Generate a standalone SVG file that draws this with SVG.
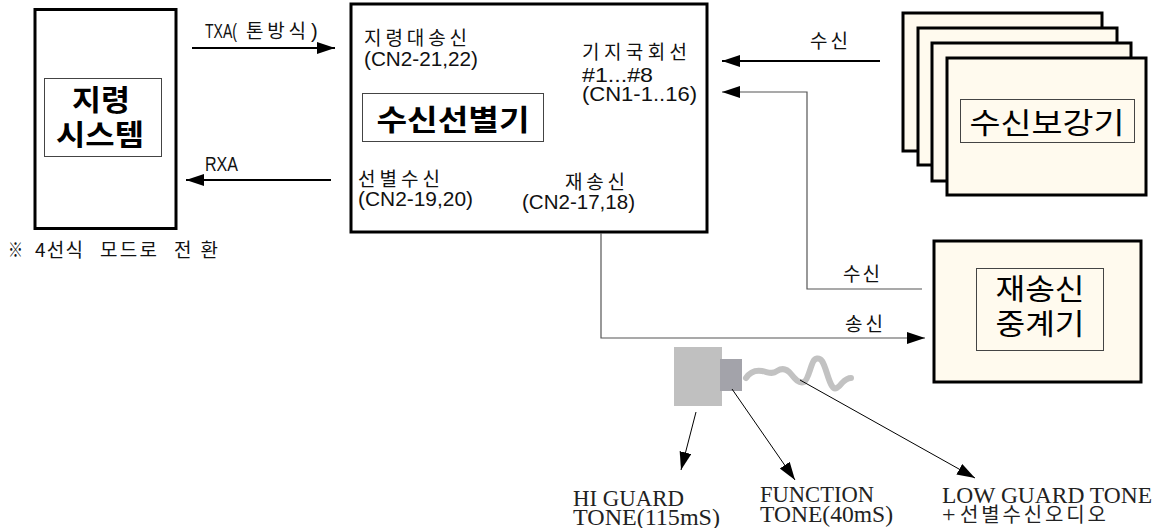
<svg xmlns="http://www.w3.org/2000/svg" width="1159" height="528" viewBox="0 0 1159 528">
  <defs>
    <marker id="arrow" markerUnits="userSpaceOnUse" markerWidth="19" markerHeight="13" refX="18" refY="6" orient="auto">
      <path d="M0,0 L18,6 L0,12 z" fill="#000"/>
    </marker>
    <style>
      .box { fill: #fff; stroke: #000; stroke-width: 3; }
      .cream { fill: #fffaee; stroke: #000; stroke-width: 3; }
      .inner { fill: none; stroke: #444; stroke-width: 1; }
      .lbl { font-family: "Noto Sans CJK KR", "DejaVu Sans", sans-serif; font-size: 19px; fill: #111; }
      .code { font-family: "Liberation Sans", "DejaVu Sans", sans-serif; font-size: 20px; fill: #111; }
      .big { font-family: "Noto Sans CJK KR", sans-serif; font-size: 29px; fill: #000; text-anchor: middle; }
      .bold { font-weight: 700; }
      .serif { font-family: "Liberation Serif", "Noto Sans CJK KR", serif; font-size: 24px; fill: #222; }
      .hangul { font-family: "Noto Sans CJK KR", sans-serif; font-size: 20px; }
      .wire { fill: none; stroke: #000; stroke-width: 2; }
      .thin { fill: none; stroke: #555; stroke-width: 1.2; }
      .lead { fill: none; stroke: #000; stroke-width: 1; }
    </style>
  </defs>

  <!-- command system -->
  <g id="command-system">
    <rect class="box" x="35" y="9.5" width="141" height="219"/>
    <rect class="inner" x="44.5" y="78.5" width="117" height="78"/>
    <text class="big bold" x="101" y="111" font-size="29" textLength="58" lengthAdjust="spacingAndGlyphs">지령</text>
    <text class="big bold" x="100" y="146" font-size="29" textLength="88" lengthAdjust="spacingAndGlyphs">시스템</text>
  </g>

  <!-- receive selector -->
  <g id="receive-selector">
    <rect class="box" x="351" y="4" width="356" height="228"/>
    <rect class="inner" x="362.5" y="93.5" width="181" height="48"/>
    <text class="big bold" x="453" y="131" font-size="30" textLength="153" lengthAdjust="spacingAndGlyphs">수신선별기</text>
    <text class="lbl" x="364" y="45" textLength="103" lengthAdjust="spacing">지령대송신</text>
    <text class="code" x="364" y="66" textLength="114" lengthAdjust="spacingAndGlyphs">(CN2-21,22)</text>
    <text class="lbl" x="582" y="59" textLength="105" lengthAdjust="spacing">기지국회선</text>
    <text class="code" x="582" y="82" textLength="71" lengthAdjust="spacingAndGlyphs">#1...#8</text>
    <text class="code" x="582" y="101" textLength="115" lengthAdjust="spacingAndGlyphs">(CN1-1..16)</text>
    <text class="lbl" x="358" y="186" textLength="82" lengthAdjust="spacing">선별수신</text>
    <text class="code" x="358" y="206" textLength="115" lengthAdjust="spacingAndGlyphs">(CN2-19,20)</text>
    <text class="lbl" x="565" y="189" textLength="60" lengthAdjust="spacing">재송신</text>
    <text class="code" x="522" y="209" textLength="113" lengthAdjust="spacingAndGlyphs">(CN2-17,18)</text>
  </g>

  <!-- stacked receive boosters -->
  <g id="receive-booster">
    <rect class="cream" x="903" y="13" width="199" height="138"/>
    <rect class="cream" x="918" y="28" width="199" height="137"/>
    <rect class="cream" x="932" y="43" width="199" height="138"/>
    <rect class="cream" x="947" y="58" width="199" height="137"/>
    <rect class="inner" x="960.5" y="99.5" width="174" height="43"/>
    <text class="big" x="1047" y="134" font-size="30" textLength="155" lengthAdjust="spacingAndGlyphs">수신보강기</text>
  </g>

  <!-- retransmit repeater -->
  <g id="retransmit-repeater">
    <rect class="cream" x="934" y="241" width="207" height="141"/>
    <rect class="inner" x="976.5" y="268.5" width="127" height="82"/>
    <text class="big" x="1040" y="300" textLength="89" lengthAdjust="spacingAndGlyphs">재송신</text>
    <text class="big" x="1040" y="335" textLength="89" lengthAdjust="spacingAndGlyphs">중계기</text>
  </g>

  <!-- tone plug with cable -->
  <g id="tone-plug">
    <rect x="674" y="347" width="48" height="59" fill="#c0c0c0"/>
    <rect x="720" y="359" width="22" height="32" fill="#a3a3aa"/>
    <path d="M746,378 C750,372 756,370 762,371 C768,372 772,375 777,371 C782,368 787,369 791,374 C795,379 799,384 804,382 C808,380 810,368 813,362 C815,358 819,357 822,361 C826,367 828,380 832,386 C835,391 839,387 842,383 C845,380 848,378 851,378"
          fill="none" stroke="#c2c2c2" stroke-width="6" stroke-linecap="round" stroke-linejoin="round"/>
  </g>

  <!-- connectors -->
  <g id="connectors">
    <line class="wire" x1="192" y1="48" x2="335" y2="48" marker-end="url(#arrow)"/>
    <line class="wire" x1="331" y1="180" x2="186" y2="180" marker-end="url(#arrow)"/>
    <line class="wire" x1="880" y1="61" x2="722" y2="61" marker-end="url(#arrow)"/>
    <polyline class="thin" points="922,289 807,289 807,92 722,92" marker-end="url(#arrow)"/>
    <polyline class="thin" points="601,233 601,338 925,338" marker-end="url(#arrow)"/>
    <line class="lead" x1="696" y1="412" x2="681" y2="470" marker-end="url(#arrow)"/>
    <line class="lead" x1="732" y1="389" x2="795" y2="480" marker-end="url(#arrow)"/>
    <line class="lead" x1="800" y1="380" x2="975" y2="478" marker-end="url(#arrow)"/>

    <text class="lbl" y="38" font-size="17"><tspan class="code" x="205" font-size="17" textLength="32" lengthAdjust="spacingAndGlyphs">TXA(</tspan><tspan x="246" textLength="60" lengthAdjust="spacing">톤방식</tspan><tspan class="code" x="311" font-size="17">)</tspan></text>
    <text class="code" x="205" y="171" font-size="17" textLength="33" lengthAdjust="spacingAndGlyphs">RXA</text>
    <text class="lbl" x="810" y="48" textLength="38" lengthAdjust="spacing">수신</text>
    <text class="lbl" x="843" y="281" textLength="37" lengthAdjust="spacing">수신</text>
    <text class="lbl" x="845" y="331" textLength="38" lengthAdjust="spacing">송신</text>
  </g>

  <!-- note and tone labels -->
  <text class="lbl" y="257" font-size="18"><tspan x="8" textLength="15" lengthAdjust="spacingAndGlyphs">※</tspan><tspan x="35" textLength="48" lengthAdjust="spacing">4선식</tspan><tspan x="100" textLength="57" lengthAdjust="spacing">모드로</tspan><tspan x="174" textLength="44" lengthAdjust="spacing">전환</tspan></text>

  <text class="serif" x="573" y="506" textLength="111" lengthAdjust="spacingAndGlyphs">HI GUARD</text>
  <text class="serif" x="573" y="525" textLength="147" lengthAdjust="spacingAndGlyphs">TONE(115mS)</text>
  <text class="serif" x="760" y="502" textLength="114" lengthAdjust="spacingAndGlyphs">FUNCTION</text>
  <text class="serif" x="760" y="522" textLength="133" lengthAdjust="spacingAndGlyphs">TONE(40mS)</text>
  <text class="serif" x="942" y="503" textLength="210" lengthAdjust="spacingAndGlyphs">LOW GUARD TONE</text>
  <text class="serif" y="522"><tspan x="942">+</tspan><tspan class="hangul" x="960" textLength="146" lengthAdjust="spacing">선별수신오디오</tspan></text>
</svg>
